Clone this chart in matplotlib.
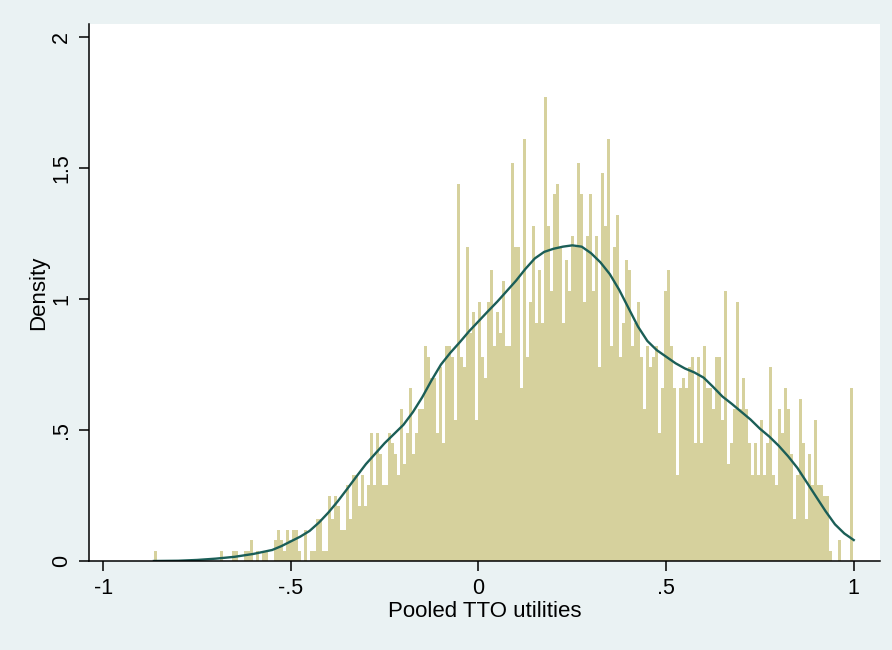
import matplotlib
matplotlib.use('Agg')
import matplotlib.pyplot as plt
import numpy as np


# =========================
# data
# =========================

# histogram: 233 bins of width .008 starting at the lowest utility
bin_start = -0.865
bin_width = 0.008

# bar heights (density), left to right
bar_density = [
    0.04, 0, 0, 0, 0, 0, 0, 0, 0, 0,
    0, 0, 0, 0, 0, 0, 0, 0, 0, 0,
    0, 0, .04, 0, 0, 0, .04, .04, 0, 0,
    .04, .04, .08, 0, .04, 0, .04, .04, 0, 0,
    .08, .12, .08, .04, .12, .08, .12, .12, .04, 0,
    .12, 0, .04, .04, .16, .16, .04, .04, .25, .16,
    .25, .21, .12, .12, .29, .16, .33, .33, .21, .33,
    .21, .29, .49, .29, .49, .41, .29, .29, .49, .45,
    .41, .33, .58, .37, .49, .66, .41, .49, .58, .58,
    .82, .78, .70, .70, .49, .74, .45, .82, .82, .78,
    .54, 1.44, .78, .74, 1.20, .87, .95, .54, .99, .78,
    .70, .99, 1.11, .82, .95, .87, 1.07, .82, .82, 1.52,
    1.20, 1.20, .66, 1.61, .78, .99, 1.28, .91, 1.11, .91,
    1.77, 1.28, 1.03, 1.40, 1.44, 1.20, .91, 1.15, 1.03, 1.24,
    1.20, 1.52, 1.40, .99, 1.24, 1.40, 1.03, 1.24, .74, 1.48,
    1.28, 1.61, .82, 1.20, 1.32, .78, .91, 1.15, 1.11, .82,
    .91, .99, .78, .58, .82, .74, .78, .82, .49, .66,
    1.03, 1.11, .82, .66, .33, .66, .70, .66, .74, .78,
    .45, .78, .45, .82, .66, .66, .58, .78, .78, .54,
    1.03, .37, .45, .58, .99, .58, .70, .58, .45, .33,
    .45, .33, .54, .33, .45, .74, .33, .29, .58, .49,
    .66, .58, .41, .16, .33, .62, .45, .16, .41, .29,
    .54, .29, .29, .25, .25, .04, 0, 0, .08, 0, 0, 0, .66,
]

# kernel density overlay
kde_x = [-0.865, -0.8, -0.75, -0.7, -0.65, -0.6, -0.55, -0.525, -0.5, -0.475,
         -0.45, -0.425, -0.4, -0.375, -0.35, -0.325, -0.3, -0.275, -0.25, -0.225,
         -0.2, -0.175, -0.15, -0.125, -0.1, -0.075, -0.05, -0.025, 0.0, 0.025,
         0.05, 0.075, 0.1, 0.125, 0.15, 0.175, 0.2, 0.225, 0.25, 0.275,
         0.3, 0.325, 0.35, 0.375, 0.4, 0.425, 0.45, 0.475, 0.5, 0.525,
         0.55, 0.575, 0.6, 0.625, 0.65, 0.675, 0.7, 0.725, 0.75, 0.775,
         0.8, 0.825, 0.85, 0.875, 0.9, 0.925, 0.95, 0.975, 1.0]
kde_y = [0.0, 0.001, 0.004, 0.009, 0.016, 0.027, 0.042, 0.057, 0.075, 0.093,
         0.115, 0.147, 0.185, 0.228, 0.275, 0.323, 0.37, 0.41, 0.45, 0.485,
         0.52, 0.568, 0.625, 0.69, 0.75, 0.795, 0.835, 0.877, 0.915, 0.953,
         0.99, 1.03, 1.07, 1.115, 1.155, 1.18, 1.192, 1.2, 1.205, 1.2,
         1.175, 1.14, 1.095, 1.035, 0.965, 0.895, 0.84, 0.805, 0.78, 0.755,
         0.735, 0.72, 0.70, 0.665, 0.628, 0.6, 0.57, 0.54, 0.505, 0.475,
         0.44, 0.40, 0.355, 0.30, 0.245, 0.19, 0.14, 0.105, 0.08]

x_ticks = [-1, -0.5, 0, 0.5, 1]
x_tick_labels = ['-1', '-.5', '0', '.5', '1']
y_ticks = [0, 0.5, 1, 1.5, 2]
y_tick_labels = ['0', '.5', '1', '1.5', '2']


# =========================
# plot
# =========================

plt.rcParams['font.family'] = ['Liberation Sans', 'DejaVu Sans']

fig = plt.figure(figsize=(8.92, 6.5), dpi=100, facecolor='#EAF2F3')
ax = fig.add_axes([89 / 892, 89 / 650, (880 - 89) / 892, (561 - 24) / 650])
ax.set_facecolor('white')

lefts = bin_start + bin_width * np.arange(len(bar_density))
ax.bar(lefts, bar_density, width=bin_width, align='edge',
       color='#D6D19D', linewidth=0)
ax.plot(kde_x, kde_y, color='#1B5E57', lw=1.7, solid_joinstyle='round')

ax.set_xlim(-1.038, 1.07)
ax.set_ylim(0, 2.05)

ax.set_xticks(x_ticks)
ax.set_xticklabels(x_tick_labels)
ax.set_yticks(y_ticks)
ax.set_yticklabels(y_tick_labels, rotation=90, va='center')

for side in ['top', 'right']:
    ax.spines[side].set_visible(False)
for side in ['left', 'bottom']:
    ax.spines[side].set_linewidth(1.1)
    ax.spines[side].set_color('black')

ax.tick_params(axis='both', length=7, width=1.1, labelsize=15.5, colors='black')
ax.tick_params(axis='x', pad=5)
ax.tick_params(axis='y', pad=5)

ax.set_xlabel('Pooled TTO utilities', fontsize=16, labelpad=1.5)
ax.set_ylabel('Density', fontsize=16, labelpad=1.5)

plt.savefig('out.png', dpi=100, facecolor=fig.get_facecolor())
plt.close('all')
